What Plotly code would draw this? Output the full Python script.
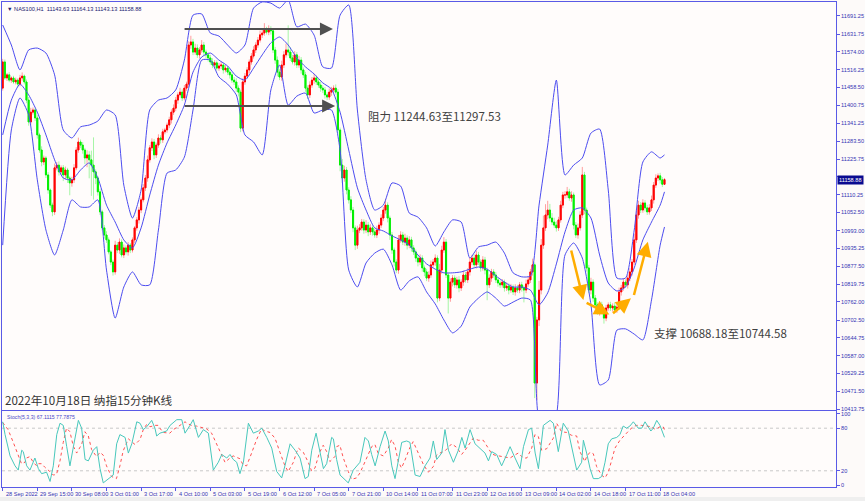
import plotly.graph_objects as go

# ---------------- data ----------------
symbol = "NAS100,H1"
first_open = 11456
closes = [
    11541, 11489, 11499, 11482, 11489, 11476, 11482, 11469, 11489, 11495,
    11476, 11417, 11346, 11378, 11385, 11359, 11304, 11255, 11216, 11229,
    11174, 11125, 11076, 11054, 11197, 11206, 11184, 11197, 11174, 11190,
    11164, 11148, 11158, 11197, 11255, 11281, 11271, 11255, 11229, 11239,
    11223, 11206, 11184, 11164, 11119, 11054, 11002, 10979, 10963, 10924,
    10891, 10859, 10946, 10930, 10956, 10914, 10937, 10924, 10946, 10930,
    10963, 11002, 11028, 11060, 11093, 11132, 11164, 11223, 11262, 11281,
    11239, 11271, 11294, 11288, 11314, 11320, 11336, 11353, 11378, 11391,
    11417, 11434, 11443, 11424, 11456, 11469, 11596, 11606, 11573, 11586,
    11564, 11580, 11596, 11573, 11564, 11554, 11541, 11531, 11538, 11521,
    11528, 11531, 11515, 11521, 11508, 11499, 11482, 11476, 11456, 11443,
    11326, 11476, 11495, 11515, 11541, 11560, 11580, 11596, 11612, 11629,
    11635, 11645, 11638, 11648, 11642, 11580, 11547, 11508, 11492, 11531,
    11564, 11580, 11573, 11554, 11541, 11564, 11531, 11547, 11515, 11499,
    11456, 11434, 11466, 11482, 11489, 11476, 11466, 11456, 11450, 11434,
    11427, 11443, 11450, 11456, 11443, 11320, 11206, 11164, 11190, 11125,
    11093, 11060, 11002, 10946, 10995, 11002, 11021, 10995, 11011, 10989,
    11002, 10989, 10979, 10995, 11011, 11034, 11060, 11076, 11034, 10979,
    10930, 10891, 10865, 10963, 10979, 10956, 10969, 10946, 10963, 10937,
    10924, 10904, 10891, 10904, 10872, 10859, 10839, 10849, 10882, 10891,
    10904, 10774, 10865, 10930, 10956, 10849, 10774, 10826, 10839, 10817,
    10833, 10807, 10826, 10849, 10833, 10859, 10891, 10904, 10882, 10914,
    10891, 10872, 10898, 10865, 10817, 10839, 10859, 10849, 10833, 10823,
    10817, 10826, 10807, 10813, 10800, 10810, 10794, 10807, 10800, 10817,
    10807, 10800, 10820, 10833, 10859, 10882, 10498, 10703, 10800, 10946,
    11002, 11044, 11060, 11034, 11021, 11011, 11002, 11028, 11076, 11109,
    11109, 11119, 11099, 11109, 11011, 10979, 11002, 11044, 11174, 11060,
    10872, 10800, 10826, 10774, 10752, 10729, 10752, 10735, 10709, 10742,
    10752, 10742, 10748, 10735, 10745, 10794, 10807, 10826, 10817, 10839,
    10859, 10891, 10963, 11044, 11076, 11060, 11083, 11067, 11054, 11067,
    11093, 11141, 11164, 11171, 11158, 11143.63, 11158.88,
]
wick_up = [
    10, 8, 6, 9, 5, 7, 8, 6, 10, 12,
    5, 8, 10, 14, 8, 6, 9, 7, 12, 8,
    6, 9, 5, 8, 14, 10, 12, 8, 9, 11,
    7, 6, 10, 12, 9, 14, 8, 10, 7, 15,
    12, 30, 90, 8, 6, 10, 7, 9, 12, 8,
    6, 8, 14, 10, 12, 9, 11, 8, 10, 7,
    8, 6, 9, 10, 8, 12, 10, 14, 9, 12,
    10, 8, 12, 9, 10, 7, 8, 10, 9, 12,
    10, 8, 14, 9, 10, 8, 12, 20, 10, 14,
    12, 9, 16, 10, 8, 7, 10, 12, 9, 8,
    10, 12, 8, 10, 7, 9, 8, 10, 12, 9,
    8, 12, 10, 9, 8, 10, 12, 9, 10, 14,
    12, 22, 10, 12, 9, 8, 10, 12, 9, 14,
    12, 20, 80, 16, 10, 12, 9, 14, 10, 8,
    10, 9, 12, 10, 14, 8, 10, 12, 9, 10,
    8, 12, 10, 9, 12, 10, 8, 20, 14, 10,
    9, 12, 10, 8, 14, 12, 10, 9, 16, 10,
    12, 8, 10, 14, 9, 12, 10, 20, 9, 8,
    10, 8, 9, 16, 12, 10, 14, 9, 12, 10,
    9, 8, 10, 12, 9, 8, 10, 12, 14, 10,
    12, 9, 20, 14, 16, 10, 8, 12, 10, 9,
    10, 12, 9, 14, 10, 12, 16, 10, 12, 14,
    10, 9, 12, 10, 8, 12, 10, 9, 10, 8,
    9, 10, 8, 12, 9, 10, 8, 12, 10, 9,
    10, 8, 14, 12, 10, 20, 8, 10, 30, 20,
    40, 35, 30, 20, 16, 14, 12, 10, 14, 10,
    12, 16, 10, 12, 8, 10, 14, 12, 26, 10,
    8, 10, 14, 9, 10, 8, 12, 10, 9, 10,
    8, 10, 9, 12, 10, 14, 10, 12, 9, 10,
    12, 10, 20, 18, 14, 10, 12, 9, 10, 12,
    14, 10, 12, 8, 10, 9, 5.25,
]
wick_dn = [
    8, 6, 10, 7, 9, 6, 8, 10, 7, 9,
    8, 10, 12, 9, 8, 10, 12, 9, 14, 10,
    10, 12, 9, 14, 10, 8, 12, 9, 20, 14,
    16, 40, 12, 10, 8, 9, 10, 12, 20, 30,
    60, 100, 90, 20, 12, 10, 9, 12, 10, 8,
    10, 12, 9, 10, 12, 8, 10, 9, 12, 10,
    8, 10, 9, 12, 10, 8, 10, 12, 9, 10,
    14, 10, 9, 12, 10, 8, 9, 10, 12, 9,
    10, 12, 9, 10, 8, 9, 10, 12, 10, 9,
    10, 12, 9, 14, 10, 12, 9, 10, 12, 8,
    9, 10, 12, 8, 10, 12, 9, 10, 12, 14,
    13, 10, 9, 8, 10, 9, 8, 10, 9, 8,
    10, 9, 8, 10, 12, 10, 12, 14, 10, 12,
    10, 9, 12, 10, 8, 12, 10, 9, 12, 10,
    12, 14, 10, 9, 12, 10, 9, 12, 10, 12,
    10, 9, 12, 10, 8, 14, 20, 16, 12, 14,
    12, 10, 14, 16, 12, 10, 9, 12, 10, 14,
    10, 12, 9, 10, 12, 9, 10, 12, 14, 16,
    12, 14, 10, 12, 9, 10, 12, 14, 10, 12,
    10, 12, 14, 10, 12, 14, 10, 12, 9, 10,
    12, 14, 10, 12, 9, 10, 50, 12, 14, 10,
    12, 14, 10, 12, 9, 10, 12, 10, 9, 12,
    10, 12, 9, 14, 50, 10, 12, 9, 10, 12,
    10, 9, 12, 10, 14, 9, 10, 12, 9, 10,
    12, 40, 10, 9, 10, 12, 49, 55, 20, 14,
    12, 10, 14, 12, 10, 9, 12, 10, 9, 10,
    12, 10, 9, 12, 14, 10, 12, 9, 10, 14,
    12, 10, 14, 12, 10, 9, 12, 10, 18, 10,
    9, 10, 12, 10, 9, 10, 12, 9, 10, 12,
    10, 12, 9, 10, 12, 10, 9, 12, 10, 9,
    10, 12, 9, 10, 12, 9, 0.5,
]

# Bollinger bands (20,2) read every 4 bars, last point on final bar
band_step = 4
band_upper = [11661, 11596, 11515, 11580, 11586, 11570, 11499, 11320, 11294, 11330,
              11336, 11349, 11385, 11369, 11141, 11034, 11125, 11385, 11417, 11424,
              11450, 11547, 11693, 11697, 11635, 11625, 11596, 11570, 11596, 11716,
              11736, 11732, 11716, 11742, 11655, 11664, 11628, 11525, 11521, 11693,
              11726, 11385, 11158, 11060, 11076, 11148, 11138, 11050, 11037, 11002,
              10943, 10989, 11028, 11021, 10904, 10940, 10946, 10956, 10920, 10856,
              10843, 10846, 11076, 11271, 11482, 11174, 11206, 11229, 11310, 11323,
              11125, 10839, 10839, 10995, 11216, 11249, 11229, 11239]
band_mid = [11304, 11417, 11469, 11434, 11378, 11304, 11223, 11164, 11158, 11190,
            11213, 11164, 11076, 11021, 10963, 10937, 11002, 11109, 11206, 11278,
            11336, 11401, 11508, 11557, 11570, 11547, 11528, 11495, 11482, 11521,
            11564, 11603, 11622, 11596, 11554, 11525, 11502, 11473, 11453, 11378,
            11255, 11132, 11060, 11002, 10992, 10976, 10963, 10946, 10914, 10885,
            10868, 10856, 10856, 10859, 10868, 10875, 10868, 10846, 10826, 10810,
            10810, 10800, 10752, 10791, 10885, 10989, 11060, 11067, 11034, 10914,
            10823, 10797, 10810, 10872, 10963, 11021, 11076, 11119]
band_lower = [10946, 11320, 11424, 11369, 11158, 10995, 10914, 10995, 11093, 11070,
              11070, 11093, 10865, 10709, 10810, 10859, 10817, 10817, 10995, 11180,
              11190, 11232, 11385, 11547, 11547, 11492, 11469, 11434, 11304, 11281,
              11239, 11450, 11531, 11401, 11430, 11440, 11375, 11385, 11385, 11255,
              10865, 10810, 10888, 10920, 10933, 10882, 10800, 10830, 10843, 10794,
              10755, 10703, 10661, 10683, 10745, 10774, 10794, 10774, 10748, 10761,
              10774, 10768, 10378, 10346, 10394, 10914, 10953, 10904, 10752, 10492,
              10508, 10670, 10674, 10657, 10638, 10768, 10946, 11005]

# Stochastic (5,3,3): %K and %D read at these bar positions
stoch_k_t = [0, 1.1, 3.4, 5.7, 7.2, 8.8, 9.5, 11.1, 12.6, 14.2,
             14.9, 16.5, 18, 20.3, 21.9, 23.4, 25, 26.5, 28, 29.6,
             31.1, 32.7, 35, 36.5, 38.1, 39.6, 41.9, 43.5, 45, 46.5,
             48.8, 51.1, 52.7, 54.2, 56.6, 58.1, 59.7, 62, 63.5, 65,
             66.6, 68.9, 70.4, 71.2, 72.7, 75.8, 77.4, 80.5, 82.8, 84.3,
             86.6, 88.1, 90.5, 92.8, 95.1, 97.4, 99.7, 101.3, 103.6, 105.1,
             106.6, 108.2, 109.7, 111.3, 113.6, 115.9, 118.2, 119.8, 122.1, 124.4,
             126.7, 129, 130.5, 132.9, 134.4, 135.2, 137.5, 139.8, 141.3, 142.9,
             144.9, 146.7, 148.3, 149.8, 152.1, 152.9, 154.4, 156, 158.3, 159.8,
             162.1, 163.7, 165.2, 167.5, 169.1, 170.6, 172.2, 174.5, 176.8, 178.3,
             179.9, 181.4, 182.9, 184.5, 186.8, 188.3, 190.7, 193, 195.3, 197.6,
             199.1, 200.7, 203, 204.5, 206.1, 208.4, 210.7, 212.3, 213.8, 216.1,
             218.4, 220.7, 223, 224.6, 226.1, 228.4, 230.7, 233.1, 234.6, 236.9,
             239.2, 240.8, 243.1, 244.6, 246.2, 247.7, 250, 253.1, 254.6, 256.9,
             259.2, 261.5, 263.9, 265.4, 267.7, 268.5, 270, 271.6, 273.1, 275.4,
             277, 278.5, 280, 281.6, 283.9, 285.4, 286.9, 288.5, 290, 291.6,
             293.9, 295.5, 297, 298.6, 299.7, 300.8, 302.4, 303.9, 306]
stoch_k_v = [89, 71, 41, 27, 21, 49, 47, 27, 21, 34,
             38, 23, 16, 18, 5, 27, 71, 87, 84, 54,
             27, 54, 91, 80, 36, 34, 49, 54, 23, 3,
             9, 14, 58, 71, 67, 45, 58, 89, 87, 78,
             82, 91, 80, 69, 73, 76, 84, 92, 92, 73,
             84, 92, 67, 78, 73, 21, 32, 43, 38, 43,
             36, 32, 16, 32, 87, 73, 76, 80, 67, 52,
             19, 10, 27, 58, 52, 49, 38, 9, 12, 49,
             73, 45, 23, 30, 67, 65, 36, 14, 7, 3,
             21, 27, 32, 67, 62, 43, 27, 54, 76, 62,
             27, 9, 36, 60, 62, 60, 14, 12, 27, 38,
             62, 36, 45, 78, 49, 32, 49, 67, 52, 78,
             58, 52, 45, 34, 47, 43, 27, 43, 54, 38,
             23, 54, 78, 80, 45, 23, 84, 91, 87, 47,
             87, 76, 45, 21, 32, 63, 45, 23, 9, 9,
             12, 32, 58, 65, 67, 71, 83, 80, 83, 89,
             80, 80, 89, 80, 76, 80, 91, 84, 67.1115]
stoch_d_t = [0, 2.5, 4.9, 7.2, 8.7, 10.3, 11, 12.6, 14.1, 15.7,
             16.4, 18, 19.5, 21.8, 23.4, 24.9, 26.5, 28, 29.5, 31.1,
             32.6, 34.2, 36.5, 38, 39.6, 41.1, 43.4, 45, 46.5, 48,
             50.3, 52.6, 54.2, 55.7, 58.1, 59.6, 61.2, 63.5, 65, 66.5,
             68.1, 70.4, 71.9, 72.7, 74.2, 77.3, 78.9, 82, 84.3, 85.8,
             88.1, 89.6, 92, 94.3, 96.6, 98.9, 101.2, 102.8, 105.1, 106.6,
             108.1, 109.7, 111.2, 112.8, 115.1, 117.4, 119.7, 121.3, 123.6, 125.9,
             128.2, 130.5, 132, 134.4, 135.9, 136.7, 139, 141.3, 142.8, 144.4,
             146.4, 148.2, 149.8, 151.3, 153.6, 154.4, 155.9, 157.5, 159.8, 161.3,
             163.6, 165.2, 166.7, 169, 170.6, 172.1, 173.7, 176, 178.3, 179.8,
             181.4, 182.9, 184.4, 186, 188.3, 189.8, 192.2, 194.5, 196.8, 199.1,
             200.6, 202.2, 204.5, 206, 207.6, 209.9, 212.2, 213.8, 215.3, 217.6,
             219.9, 222.2, 224.5, 226.1, 227.6, 229.9, 232.2, 234.6, 236.1, 238.4,
             240.7, 242.3, 244.6, 246.1, 247.7, 249.2, 251.5, 254.6, 256.1, 258.4,
             260.7, 263, 265.4, 266.9, 269.2, 270, 271.5, 273.1, 274.6, 276.9,
             278.5, 280, 281.5, 283.1, 285.4, 286.9, 288.4, 290, 291.5, 293.1,
             295.4, 297, 298.5, 300.1, 301.2, 302.3, 303.9, 305.4, 306]
stoch_d_v = [88, 78, 60, 40, 30, 32, 38, 40, 32, 27,
             30, 30, 25, 19, 14, 15, 34, 60, 80, 75,
             55, 45, 57, 75, 69, 50, 40, 46, 42, 27,
             12, 9, 27, 48, 65, 61, 57, 64, 78, 85,
             82, 84, 84, 80, 74, 73, 78, 84, 89, 86,
             83, 83, 81, 79, 73, 57, 42, 32, 38, 41,
             39, 37, 28, 27, 45, 64, 79, 76, 74, 66,
             46, 27, 19, 32, 46, 52, 46, 32, 20, 24,
             45, 56, 47, 33, 40, 54, 56, 38, 19, 8,
             10, 17, 27, 42, 54, 57, 44, 41, 52, 64,
             55, 33, 24, 35, 53, 61, 45, 29, 18, 26,
             42, 45, 48, 53, 58, 53, 43, 49, 56, 66,
             63, 63, 52, 44, 42, 41, 39, 38, 41, 45,
             38, 38, 52, 71, 68, 49, 51, 66, 87, 75,
             74, 70, 69, 47, 33, 40, 46, 44, 26, 14,
             10, 18, 34, 52, 63, 68, 74, 78, 82, 84,
             84, 83, 83, 82, 79, 79, 82, 82, 77.7875]
stoch_levels = [20, 80]
stoch_label = "Stoch(5,3,3) 67.1115 77.7875"

# x-axis labels every 16 bars
label_step = 16
x_labels = ["28 Sep 2022", "29 Sep 15:00", "30 Sep 08:00", "3 Oct 01:00", "3 Oct 17:00",
            "4 Oct 10:00", "5 Oct 03:00", "5 Oct 19:00", "6 Oct 12:00", "7 Oct 05:00",
            "7 Oct 21:00", "10 Oct 14:00", "11 Oct 07:00", "11 Oct 23:00", "12 Oct 16:00",
            "13 Oct 09:00", "14 Oct 02:00", "14 Oct 18:00", "17 Oct 11:00", "18 Oct 04:00"]
price_ticks = [11691.25, 11631.75, 11574.00, 11516.25, 11458.50, 11400.75, 11341.25,
               11283.50, 11225.75, 11168.00, 11110.25, 11052.50, 10993.00, 10935.25,
               10877.50, 10819.75, 10762.00, 10702.50, 10644.75, 10587.00, 10529.25,
               10471.50, 10413.75]
price_range = [10410.5, 11735.7]
bar_range = [-0.32, 385.3]

# resistance arrows (bar start, bar end, price) and support arrows
res_x0 = [83.4, 83.4]
res_x1 = [152.7, 153.7]
res_y = [11648, 11398]
sup_x0 = [262.7, 269.3, 281.5, 291.7]
sup_y0 = [10933.5, 10761.3, 10720.7, 10779.2]
sup_x1 = [268.5, 280.5, 290.5, 298.3]
sup_y1 = [10767.8, 10720.7, 10773.3, 10957.2]
res_text = "阻力 11244.63至11297.53"
res_pos = (168.0, 11365.4)
sup_text = "支撑 10688.18至10744.58"
sup_pos = (300.3, 10660.6)
caption = "2022年10月18日 纳指15分钟K线"

# ---------------- build ----------------
assert len(closes) == len(wick_up) == len(wick_dn)
assert len(stoch_k_t) == len(stoch_k_v) and len(stoch_d_t) == len(stoch_d_v)
n = len(closes)
idx = list(range(n))
opens = [first_open] + closes[:-1]
body_hi = [max(o, c) for o, c in zip(opens, closes)]
body_lo = [min(o, c) for o, c in zip(opens, closes)]
highs = [b + w for b, w in zip(body_hi, wick_up)]
lows = [b - w for b, w in zip(body_lo, wick_dn)]
band_x = list(range(0, n - 1, band_step)) + [n - 1]
last_price = closes[-1]
# the live-price tag hides the tick label right under it
price_ticktext = ["" if abs(p - last_price) < 20 else f"{p:.2f}" for p in price_ticks]

AX = "#5A5AE6"
TXT = "#3434B4"
BAND = "#4C4CF0"

fig = go.Figure()
fig.add_trace(go.Candlestick(
    x=idx, open=opens, high=highs, low=lows, close=closes,
    increasing=dict(line=dict(color="#FF9E9E", width=1), fillcolor="#FF9E9E"),
    decreasing=dict(line=dict(color="#A6F5A6", width=1), fillcolor="#A6F5A6"),
    xaxis="x2", yaxis="y", hoverinfo="skip", whiskerwidth=0))
fig.add_trace(go.Candlestick(
    x=idx, open=opens, high=body_hi, low=body_lo, close=closes,
    increasing=dict(line=dict(color="#FF0000", width=1), fillcolor="#FF0000"),
    decreasing=dict(line=dict(color="#00EE00", width=1), fillcolor="#00FF00"),
    xaxis="x2", yaxis="y", hoverinfo="skip", whiskerwidth=0))
for band in (band_upper, band_mid, band_lower):
    fig.add_trace(go.Scatter(x=band_x, y=band, mode="lines",
                             line=dict(color=BAND, width=1, shape="spline", smoothing=0.6),
                             xaxis="x2", yaxis="y", hoverinfo="skip"))
fig.add_trace(go.Scatter(x=stoch_d_t, y=stoch_d_v, mode="lines",
                         line=dict(color="#FF5050", width=1, dash="dot"),
                         xaxis="x", yaxis="y2", hoverinfo="skip"))
fig.add_trace(go.Scatter(x=stoch_k_t, y=stoch_k_v, mode="lines",
                         line=dict(color="#48C8BC", width=1),
                         xaxis="x", yaxis="y2", hoverinfo="skip"))

H_TOT = 485.0
main_bottom = (487 - 410) / H_TOT
stoch_top = (487 - 411) / H_TOT

shapes = []
for lv in stoch_levels:
    shapes.append(dict(type="line", xref="paper", x0=0, x1=1, yref="y2", y0=lv, y1=lv,
                       line=dict(color="#C8C8C8", width=1, dash="dot"), layer="below"))
# light grey status strip along the very bottom of the window
shapes.append(dict(type="rect", xref="paper", yref="paper", x0=-0.01, x1=1.05,
                   y0=-10 / H_TOT, y1=-15 / H_TOT, line=dict(width=0), fillcolor="#EFEFEF",
                   layer="below"))

annotations = []
for k, lab in enumerate(x_labels):
    annotations.append(dict(x=k * label_step, y=0, xref="x", yref="paper", text=lab,
                            showarrow=False, xanchor="left", yanchor="top", xshift=1, yshift=-2,
                            font=dict(family="Liberation Sans", size=5.6, color=TXT)))
annotations.append(dict(x=1, xref="paper", y=last_price, yref="y", xanchor="left", yanchor="middle",
                        text=f"{last_price:.2f}", showarrow=False, bgcolor="#0A0A90", borderpad=1,
                        xshift=1, font=dict(family="Liberation Sans", size=5.6, color="white")))
annotations.append(dict(x=0, y=1, xref="paper", yref="paper", xanchor="left", yanchor="top",
                        xshift=3, yshift=-2, showarrow=False,
                        text=f"▼ {symbol}  {opens[-1]:.2f} {highs[-1]:.2f} {lows[-1]:.2f} {closes[-1]:.2f}",
                        font=dict(family="Liberation Sans", size=5.6, color="#202070")))
annotations.append(dict(x=0, y=stoch_top, xref="paper", yref="paper", xanchor="left", yanchor="top",
                        xshift=3, yshift=-1, showarrow=False, text=stoch_label,
                        font=dict(family="Liberation Sans", size=5.2, color="#4848C8")))
annotations.append(dict(x=0, y=main_bottom, xref="paper", yref="paper", xanchor="left", yanchor="bottom",
                        xshift=1, yshift=0, showarrow=False, text=caption,
                        font=dict(family="Noto Sans CJK SC", size=11.6, color="#333333")))
annotations.append(dict(x=res_pos[0], y=res_pos[1], xref="x2", yref="y", xanchor="left", yanchor="middle",
                        showarrow=False, text=res_text,
                        font=dict(family="Noto Sans CJK SC", size=11.5, color="#404040")))
annotations.append(dict(x=sup_pos[0], y=sup_pos[1], xref="x2", yref="y", xanchor="left", yanchor="middle",
                        showarrow=False, text=sup_text,
                        font=dict(family="Noto Sans CJK SC", size=11.5, color="#404040")))
for x0, x1, yv in zip(res_x0, res_x1, res_y):
    annotations.append(dict(x=x1, y=yv, ax=x0, ay=yv, xref="x2", yref="y", axref="x2", ayref="y",
                            text="", showarrow=True, arrowhead=2, arrowsize=1.3, arrowwidth=2,
                            arrowcolor="#505050"))
for x0, y0, x1, y1 in zip(sup_x0, sup_y0, sup_x1, sup_y1):
    annotations.append(dict(x=x1, y=y1, ax=x0, ay=y0, xref="x2", yref="y", axref="x2", ayref="y",
                            text="", showarrow=True, arrowhead=2, arrowsize=1.2, arrowwidth=2.5,
                            arrowcolor="#FFAD00"))

fig.update_layout(
    width=865, height=501,
    margin=dict(l=2, r=29, t=2, b=14),
    paper_bgcolor="#FDFAF9", plot_bgcolor="#FFFCFB",
    showlegend=False, hovermode=False,
    xaxis=dict(domain=[0, 1], anchor="y2", range=bar_range, showgrid=False, zeroline=False,
               tickvals=[k * label_step for k in range(len(x_labels))], showticklabels=False,
               ticks="outside", ticklen=3, tickcolor=AX, showline=True, linecolor=AX, mirror=True,
               rangeslider=dict(visible=False)),
    xaxis2=dict(domain=[0, 1], anchor="y", matches="x", range=bar_range, showgrid=False,
                zeroline=False, showticklabels=False, showline=True, linecolor=AX, mirror=True,
                rangeslider=dict(visible=False)),
    yaxis=dict(domain=[main_bottom, 1], anchor="x2", side="right", range=price_range,
               tickvals=price_ticks, ticktext=price_ticktext,
               ticks="outside", ticklen=3, tickcolor=AX, showgrid=False, zeroline=False,
               showline=True, linecolor=AX, mirror=True, automargin=False,
               tickfont=dict(family="Liberation Sans", size=5.6, color=TXT)),
    yaxis2=dict(domain=[0, stoch_top], anchor="x", side="right", range=[-2.8, 104.2],
                tickvals=[0, 20, 80, 100], ticks="outside", ticklen=3, tickcolor=AX,
                showgrid=False, zeroline=False, showline=True, linecolor=AX, mirror=True,
                automargin=False,
                tickfont=dict(family="Liberation Sans", size=5.6, color=TXT)),
    shapes=shapes, annotations=annotations,
)

fig.write_html("out.html", config={"displayModeBar": False, "staticPlot": True},
               post_script="document.body.style.margin='0';document.body.style.padding='0';"
                           "document.body.style.background='#FDFAF9';")
